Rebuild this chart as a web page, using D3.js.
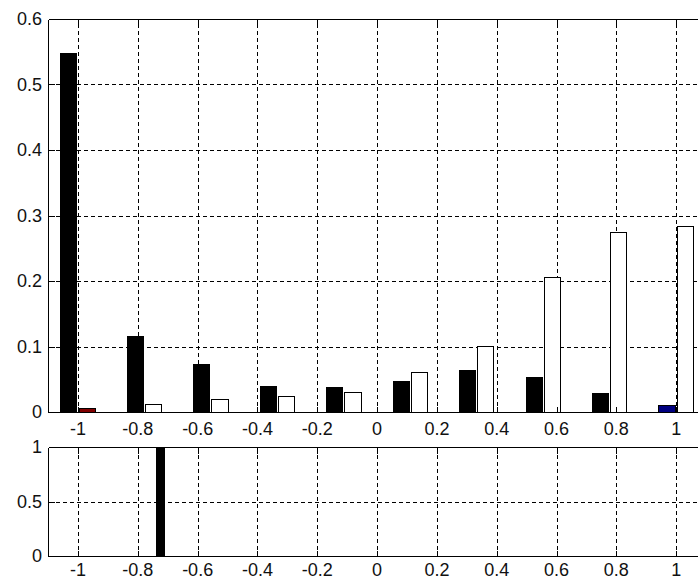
<!DOCTYPE html>
<html>
<head>
<meta charset="utf-8">
<style>
body { margin: 0; background: #fff; }
svg { display: block; }
.grid line { stroke: #000; stroke-width: 1; stroke-dasharray: 4,3; shape-rendering: crispEdges; }
.box line { stroke: #000; stroke-width: 1; shape-rendering: crispEdges; }
.bars rect { stroke: #000; stroke-width: 1; shape-rendering: crispEdges; }
text { font-family: "Liberation Sans Narrow", "Arial Narrow", "Liberation Sans", sans-serif; font-size: 18px; fill: #111; }
</style>
</head>
<body>
<svg width="698" height="579"></svg>
<script src="https://d3js.org/d3.v7.min.js"></script>
<script>
// histogram bins (centres) and the two series
var binCenters = [-1, -0.7778, -0.5556, -0.3333, -0.1111, 0.1111, 0.3333, 0.5556, 0.7778, 1];
var seriesA = [0.548, 0.1154, 0.072, 0.039, 0.0376, 0.0467, 0.063, 0.0534, 0.029, 0.0096];
var seriesB = [0.005, 0.0116, 0.0188, 0.0234, 0.0305, 0.0605, 0.100, 0.2055, 0.2748, 0.2834];

// lower panel: one single bar
var lowerX = [-0.725];
var lowerVals = [1];

var xTicks = [-1, -0.8, -0.6, -0.4, -0.2, 0, 0.2, 0.4, 0.6, 0.8, 1];
var xTickLabels = ["-1", "-0.8", "-0.6", "-0.4", "-0.2", "0", "0.2", "0.4", "0.6", "0.8", "1"];
var yTicksTop = [0, 0.1, 0.2, 0.3, 0.4, 0.5, 0.6];
var yTickLabelsTop = ["0", "0.1", "0.2", "0.3", "0.4", "0.5", "0.6"];
var yTicksBottom = [0, 0.5, 1];
var yTickLabelsBottom = ["0", "0.5", "1"];

var svg = d3.select("svg");
var tickLen = 6;
var px = function(v) { return Math.round(v) + 0.5; };

var x = d3.scaleLinear().domain([-1.1, 1.1]).range([48.1, 706.1]);
var yTop = d3.scaleLinear().domain([0, 0.6]).range([412, 19]);
var yBot = d3.scaleLinear().domain([0, 1]).range([556, 447]);

function panel(y, yTicks, yLabels, xLabelY) {
  var g = svg.append("g");
  var x0 = px(x.range()[0]), x1 = px(x.range()[1]);
  var y0 = px(y.range()[0]), y1 = px(y.range()[1]);

  // dashed grid
  var grid = g.append("g").attr("class", "grid");
  grid.selectAll(".gv").data(xTicks).enter().append("line")
      .attr("x1", function(d) { return px(x(d)); })
      .attr("x2", function(d) { return px(x(d)); })
      .attr("y1", y0).attr("y2", y1);
  grid.selectAll(".gh").data(yTicks.slice(1, -1)).enter().append("line")
      .attr("x1", x0).attr("x2", x1)
      .attr("y1", function(d) { return px(y(d)); })
      .attr("y2", function(d) { return px(y(d)); });
  return {g: g, x0: x0, x1: x1, y0: y0, y1: y1, y: y, yTicks: yTicks, yLabels: yLabels, xLabelY: xLabelY};
}

function frame(p) {
  var box = p.g.append("g").attr("class", "box");
  box.append("line").attr("x1", p.x0).attr("x2", p.x1).attr("y1", p.y0).attr("y2", p.y0);
  box.append("line").attr("x1", p.x0).attr("x2", p.x1).attr("y1", p.y1).attr("y2", p.y1);
  box.append("line").attr("x1", p.x0).attr("x2", p.x0).attr("y1", p.y0).attr("y2", p.y1);
  box.append("line").attr("x1", p.x1).attr("x2", p.x1).attr("y1", p.y0).attr("y2", p.y1);

  xTicks.forEach(function(t) {
    var xx = px(x(t));
    box.append("line").attr("x1", xx).attr("x2", xx).attr("y1", p.y0).attr("y2", p.y0 - tickLen);
    box.append("line").attr("x1", xx).attr("x2", xx).attr("y1", p.y1).attr("y2", p.y1 + tickLen);
  });
  p.yTicks.forEach(function(t) {
    var yy = px(p.y(t));
    box.append("line").attr("x1", p.x0).attr("x2", p.x0 + tickLen).attr("y1", yy).attr("y2", yy);
    box.append("line").attr("x1", p.x1).attr("x2", p.x1 - tickLen).attr("y1", yy).attr("y2", yy);
  });

  p.g.selectAll(".xl").data(xTicks).enter().append("text")
      .attr("x", function(d) { return x(d); })
      .attr("y", p.xLabelY)
      .attr("text-anchor", "middle")
      .text(function(d, i) { return xTickLabels[i]; });
  p.g.selectAll(".yl").data(p.yTicks).enter().append("text")
      .attr("x", 42)
      .attr("y", function(d) { return p.y(d); })
      .attr("dy", "0.36em")
      .attr("text-anchor", "end")
      .text(function(d, i) { return p.yLabels[i]; });
}

// upper panel
var topPanel = panel(yTop, yTicksTop, yTickLabelsTop, 435);
var barW = 0.054, gap = 0.0035;
var bars = topPanel.g.append("g").attr("class", "bars");
bars.selectAll(".a").data(seriesA).enter().append("rect")
    .attr("x", function(d, i) { return x(binCenters[i] - gap - barW); })
    .attr("width", x(barW) - x(0))
    .attr("y", function(d) { return yTop(d); })
    .attr("height", function(d) { return yTop(0) - yTop(d); })
    .attr("fill", function(d, i) { return i === seriesA.length - 1 ? "#000080" : "#000"; });
bars.selectAll(".b").data(seriesB).enter().append("rect")
    .attr("x", function(d, i) { return x(binCenters[i] + gap); })
    .attr("width", x(barW) - x(0))
    .attr("y", function(d) { return yTop(d); })
    .attr("height", function(d) { return yTop(0) - yTop(d); })
    .attr("fill", function(d, i) { return i === 0 ? "#800000" : "#fff"; });
frame(topPanel);

// lower panel
var botPanel = panel(yBot, yTicksBottom, yTickLabelsBottom, 576);
var lowW = 0.028;
botPanel.g.append("g").attr("class", "bars").selectAll("rect").data(lowerVals).enter().append("rect")
    .attr("x", function(d, i) { return x(lowerX[i] - lowW / 2); })
    .attr("width", x(lowW) - x(0))
    .attr("y", function(d) { return yBot(d); })
    .attr("height", function(d) { return yBot(0) - yBot(d); })
    .attr("fill", "#000");
frame(botPanel);
</script>
</body>
</html>
